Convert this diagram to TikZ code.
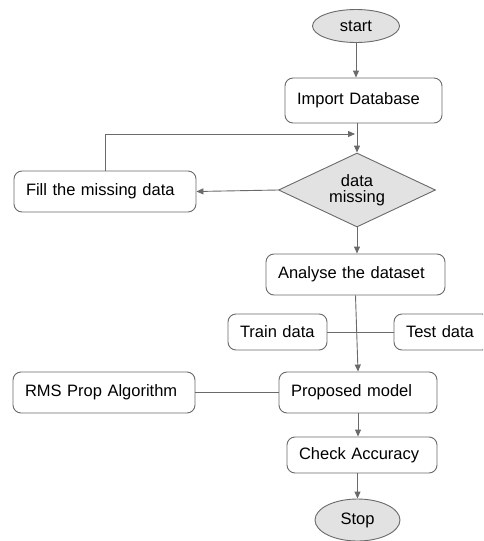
\documentclass[tikz,border=0pt]{standalone}
\usepackage{fontspec}
\setmainfont{Liberation Sans}
\usetikzlibrary{shapes.geometric,arrows.meta}
\definecolor{edge}{HTML}{6A6A6A}
\definecolor{shade}{HTML}{E2E2E2}
\tikzset{
  box/.style={draw=edge, line width=0.9pt, rounded corners=8pt, fill=white,
    inner xsep=12pt, inner ysep=0pt, align=left, text width=#1,
    font=\fontsize{16.5}{18}\selectfont},
  oval/.style={draw=edge, line width=0.9pt, ellipse, fill=shade,
    inner sep=0pt, font=\fontsize{16.5}{18}\selectfont},
  decide/.style={draw=edge, line width=0.9pt, diamond, fill=shade,
    inner sep=0pt, align=center, font=\fontsize{16.5}{18}\selectfont},
  link/.style={draw=edge, line width=0.9pt},
  arr/.style={link, -{Triangle[length=7pt,width=6pt]}}
}
\begin{document}
\begin{tikzpicture}[x=1pt,y=-1pt]
\useasboundingbox (0,0) rectangle (483,541);
\clip (0,0) rectangle (483,541);
\fill[white] (0,0) rectangle (483,541);

% nodes (box widths = text width + 24pt)
\node[oval, minimum width=87pt, minimum height=33pt] (start) at (356,26) {start};
\node[box=133pt, minimum height=45pt] (import) at (363.5,100.5) {Import Database};
\node[decide, minimum width=157pt, minimum height=74pt, shape aspect=2.1] (dm) at (357,190) {data\\[-2pt]missing};
\node[box=158pt, minimum height=41pt] (fill) at (105,191.5) {Fill the missing data};
\node[box=155pt, minimum height=41pt] (analyse) at (355.5,274.5) {Analyse the dataset};
\node[box=75pt, minimum height=36pt] (train) at (277.5,332) {Train data};
\node[box=72pt, minimum height=36pt] (test) at (442,332) {Test data};
\node[box=134pt, minimum height=41pt] (proposed) at (358,392.5) {Proposed model};
\node[box=158pt, minimum height=41pt] (rms) at (104,392.5) {RMS Prop Algorithm};
\node[box=126pt, minimum height=36pt] (check) at (362,455) {Check Accuracy};
\node[oval, minimum width=85pt, minimum height=42pt] (stop) at (357.5,520) {Stop};

\coordinate (loopend) at (355,134);

% connectors
\draw[arr] (start.south) -- (start.south |- import.north);
\draw[arr] (dm.north |- import.south) -- (dm.north);
\draw[arr] (fill.north) |- (loopend);
\draw[arr] (dm.west) -- (fill.east);
\draw[arr] (dm.south) -- (dm.south |- analyse.north);
\draw[arr] (analyse.south) -- (proposed.north);
\draw[link] (train.east) -- (test.west);
\draw[link] (rms.east) -- (proposed.west);
\draw[arr] (proposed.south) -- (proposed.south |- check.north);
\draw[arr] (stop.north |- check.south) -- (stop.north);
\end{tikzpicture}
\end{document}
